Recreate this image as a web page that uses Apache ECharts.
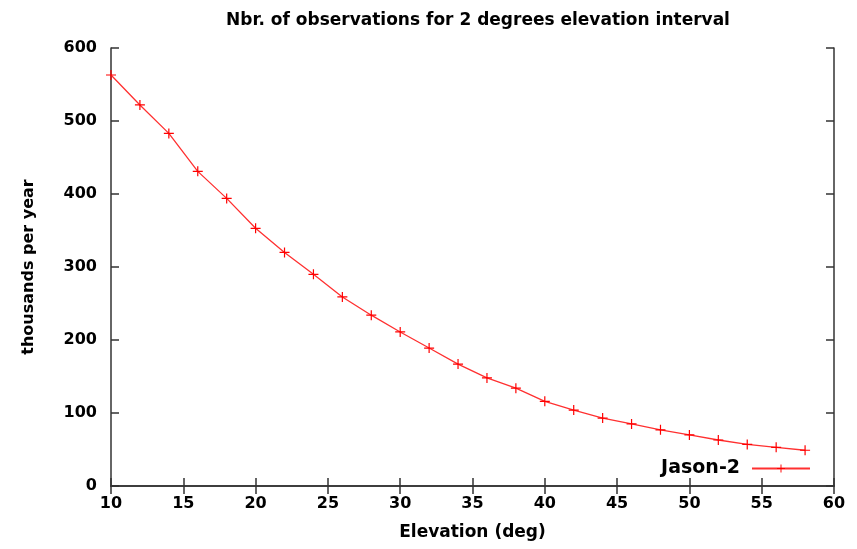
<!DOCTYPE html>
<html>
<head>
<meta charset="UTF-8">
<title>Nbr. of observations</title>
<script src="https://cdn.jsdelivr.net/npm/echarts@6/dist/echarts.min.js"></script>
</head>
<body style="margin:0;background:#fff;">
<div id="main" style="width:857px;height:549px;"></div>
<script>
// elevation (deg) and thousands of observations per year
var elevation = [10, 12, 14, 16, 18, 20, 22, 24, 26, 28, 30, 32, 34, 36, 38, 40, 42, 44, 46, 48, 50, 52, 54, 56, 58];
var jason2 = [563, 522, 483, 431, 394, 353, 320, 290, 259, 234, 211, 189, 167, 148, 134, 116, 104, 93, 85, 77, 70, 63, 57, 53, 49];

var plusPath = 'path://M4.4,0h1.2v4.4h4.4v1.2h-4.4v4.4h-1.2v-4.4h-4.4v-1.2h4.4z';
var font = 'DejaVu Sans';
var axisColor = '#333';

var points = elevation.map(function (e, i) { return [e, jason2[i]]; });

var chart = echarts.init(document.getElementById('main'));
chart.setOption({
    animation: false,
    title: {
        text: 'Nbr. of observations for 2 degrees elevation interval',
        left: 473, top: 7, textAlign: 'center',
        textStyle: { fontFamily: font, fontSize: 17, fontWeight: 'bold', color: '#000' }
    },
    legend: {
        data: ['Jason-2'],
        right: 46, top: 459,
        padding: 0,
        align: 'right',
        itemWidth: 58, itemHeight: 10,
        textStyle: { fontFamily: font, fontSize: 19, fontWeight: 'bold', color: '#000', padding: [0, 7, 0, 0] }
    },
    grid: { left: 111, right: 23, top: 48, bottom: 63 },
    xAxis: [{
        type: 'value', min: 10, max: 60, interval: 5,
        name: 'Elevation (deg)', nameLocation: 'middle', nameGap: 38,
        nameTextStyle: { fontFamily: font, fontSize: 17, fontWeight: 'bold', color: '#000' },
        axisLine: { lineStyle: { color: axisColor, width: 1.5 } },
        axisTick: { inside: true, length: 8, lineStyle: { color: axisColor, width: 1.5 } },
        axisLabel: { fontFamily: font, fontSize: 16, fontWeight: 'bold', color: '#000', margin: 10 },
        splitLine: { show: false }
    }, {
        type: 'value', position: 'top', min: 10, max: 60, interval: 5,
        axisLine: { show: true, lineStyle: { color: axisColor, width: 1.5 } },
        axisTick: { inside: true, length: 8, lineStyle: { color: axisColor, width: 1.5 } },
        axisLabel: { show: false },
        splitLine: { show: false }
    }],
    yAxis: [{
        type: 'value', min: 0, max: 600, interval: 100,
        name: 'thousands per year', nameLocation: 'middle', nameGap: 74,
        nameTextStyle: { fontFamily: font, fontSize: 16, fontWeight: 'bold', color: '#000' },
        axisLine: { show: true, lineStyle: { color: axisColor, width: 1.5 } },
        axisTick: { show: true, inside: true, length: 8, lineStyle: { color: axisColor, width: 1.5 } },
        axisLabel: { fontFamily: font, fontSize: 16, fontWeight: 'bold', color: '#000', margin: 14 },
        splitLine: { show: false }
    }, {
        type: 'value', position: 'right', min: 0, max: 600, interval: 100,
        axisLine: { show: true, lineStyle: { color: axisColor, width: 1.5 } },
        axisTick: { show: true, inside: true, length: 8, lineStyle: { color: axisColor, width: 1.5 } },
        axisLabel: { show: false },
        splitLine: { show: false }
    }],
    series: [{
        name: 'Jason-2',
        type: 'line',
        data: points,
        symbol: plusPath,
        symbolSize: 10,
        showAllSymbol: true,
        lineStyle: { color: '#ff3030', width: 1.3 },
        itemStyle: { color: '#ff0000' }
    }]
});
</script>
</body>
</html>
